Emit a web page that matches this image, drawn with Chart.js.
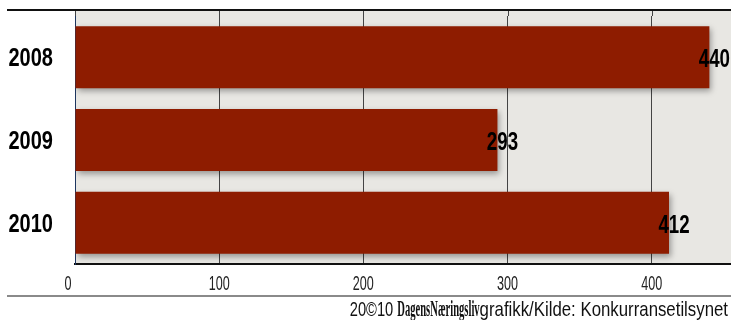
<!DOCTYPE html>
<html>
<head>
<meta charset="utf-8">
<script src="https://cdn.jsdelivr.net/npm/chart.js@4/dist/chart.umd.min.js"></script>
<style>
  html, body { margin: 0; padding: 0; background: #fff; }
</style>
</head>
<body>
<canvas id="barChart" width="731" height="320"></canvas>
<script>
const years = ['2008', '2009', '2010'];
const cases = [440, 293, 412];
const xTicks = [0, 100, 200, 300, 400];
const footerParts = ['20©10 ', 'DagensNæringsliv', 'grafikk/Kilde: Konkurransetilsynet'];

// draw text squeezed horizontally (the original uses a condensed face)
function squeezed(ctx, text, x, y, sx, font, align) {
    ctx.save();
    ctx.font = font;
    ctx.textAlign = align;
    ctx.translate(x, y);
    ctx.scale(sx, 1);
    ctx.fillText(text, 0, 0);
    ctx.restore();
}

const decor = {
    id: 'decor',
    beforeDraw(chart) {
        const { ctx, chartArea: a } = chart;
        ctx.save();
        ctx.fillStyle = '#e8e7e3';
        ctx.fillRect(a.left, 10, a.right - a.left, a.bottom - 10);
        // grid lines reach up to the top rule
        const xs = chart.scales.x;
        ctx.strokeStyle = '#444';
        ctx.lineWidth = 1;
        xTicks.forEach(v => {
            const px = Math.round(xs.getPixelForValue(v)) + 0.5;
            ctx.beginPath();
            ctx.moveTo(px, 10);
            ctx.lineTo(px, a.top);
            ctx.stroke();
        });
        ctx.restore();
    },
    beforeDatasetDraw(chart) {
        const ctx = chart.ctx;
        ctx.save();
        ctx.shadowColor = 'rgba(0,0,0,0.35)';
        ctx.shadowBlur = 6;
        ctx.shadowOffsetX = 2;
        ctx.shadowOffsetY = 3;
    },
    afterDatasetDraw(chart) {
        chart.ctx.restore();
    },
    afterDraw(chart) {
        const ctx = chart.ctx;
        const xs = chart.scales.x;
        const ys = chart.scales.y;
        ctx.save();
        // top rule
        ctx.strokeStyle = '#111';
        ctx.lineWidth = 2;
        ctx.beginPath();
        ctx.moveTo(7, 10);
        ctx.lineTo(731, 10);
        ctx.stroke();
        // bottom rule
        ctx.strokeStyle = '#8a8a8a';
        ctx.beginPath();
        ctx.moveTo(7, 296);
        ctx.lineTo(731, 296);
        ctx.stroke();

        ctx.textBaseline = 'alphabetic';
        // category labels
        ctx.fillStyle = '#000';
        years.forEach((y, i) => {
            squeezed(ctx, y, 53, ys.getPixelForValue(i) + 9, 0.77,
                'bold 26px "Liberation Sans", Arimo, sans-serif', 'right');
        });
        // x tick labels
        ctx.fillStyle = '#222';
        xTicks.forEach(v => {
            const px = xs.getPixelForValue(v) - (v === 0 ? 7 : 0);
            squeezed(ctx, String(v), px, 290, 0.6,
                '21px "Liberation Sans", Arimo, sans-serif', 'center');
        });
        // value labels at bar ends
        ctx.fillStyle = '#000';
        chart.getDatasetMeta(0).data.forEach((bar, i) => {
            squeezed(ctx, String(cases[i]), bar.x + 5, bar.y + 10, 0.72,
                'bold 26px "Liberation Sans", Arimo, sans-serif', 'center');
        });
        // footer line, right aligned
        ctx.fillStyle = '#111';
        const fonts = [
            ['21px "Liberation Sans", sans-serif', 0.7],
            ['bold 23px "Liberation Serif", serif', 0.46],
            ['21px "Liberation Sans", sans-serif', 0.8]
        ];
        let right = 728;
        for (let k = footerParts.length - 1; k >= 0; k--) {
            ctx.font = fonts[k][0];
            const w = ctx.measureText(footerParts[k]).width * fonts[k][1];
            squeezed(ctx, footerParts[k], right, 316, fonts[k][1], fonts[k][0], 'right');
            right -= w;
        }
        ctx.restore();
    }
};

const config = {
    type: 'bar',
    data: {
        labels: years,
        datasets: [{
            data: cases,
            backgroundColor: '#8e1c00',
            borderWidth: 0,
            barPercentage: 0.75,
            categoryPercentage: 1
        }]
    },
    options: {
        indexAxis: 'y',
        responsive: false,
        animation: false,
        layout: { padding: { top: 16, right: 0, left: 0, bottom: 0 } },
        scales: {
            x: {
                min: 0,
                max: 455,
                afterBuildTicks: (axis) => {
                    axis.ticks = xTicks.map(v => ({ value: v }));
                },
                afterFit: (scale) => { scale.height = 56; },
                grid: {
                    color: '#444',
                    lineWidth: 1,
                    drawTicks: false
                },
                border: { color: '#111', width: 2 },
                ticks: { display: false }
            },
            y: {
                afterFit: (scale) => { scale.width = 75; },
                grid: { display: false, drawTicks: false },
                border: { color: '#1d3660', width: 1 },
                ticks: { display: false }
            }
        },
        plugins: {
            legend: { display: false },
            tooltip: { enabled: false }
        }
    },
    plugins: [decor]
};

const ctx = document.getElementById('barChart').getContext('2d');
new Chart(ctx, config);
</script>
</body>
</html>
